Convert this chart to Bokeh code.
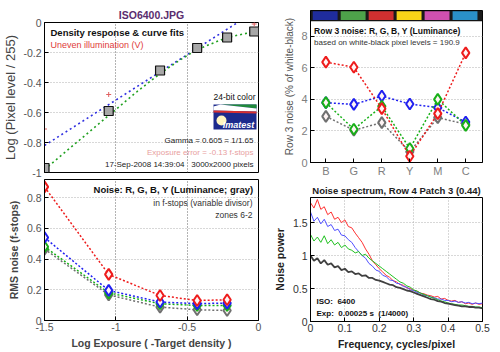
from bokeh.plotting import figure
from bokeh.layouts import row, column
from bokeh.models import Label, FixedTicker, Range1d, Span
from bokeh.embed import file_html
from bokeh.resources import INLINE

FONT = "Liberation Sans"

# ---------------- data ----------------
# Density response (top-left)
dens_x = [-1.5, -1.05, -0.69, -0.43, -0.22, -0.03]
dens_y = [-0.97, -0.59, -0.32, -0.17, -0.10, -0.06]
illum_x = [-1.5, -1.05, -0.03]
illum_y = [-0.71, -0.48, -0.01]
linfit_x = [-1.5, -0.146]
linfit_y = [-0.82, 0.0]
curvefit_x = [-1.5, -1.25, -1.05, -0.85, -0.69, -0.55, -0.43, -0.30, -0.22, -0.10, 0.0]
curvefit_y = [-0.98, -0.78, -0.62, -0.46, -0.34, -0.25, -0.18, -0.13, -0.10, -0.075, -0.06]

# Noise in f-stops (bottom-left)
noise_x = [-1.5, -1.05, -0.69, -0.43, -0.22]
noise_r = [0.87, 0.30, 0.163, 0.13, 0.135]
noise_b = [0.54, 0.196, 0.12, 0.11, 0.113]
noise_g = [0.48, 0.18, 0.109, 0.098, 0.098]
noise_y = [0.465, 0.167, 0.087, 0.07, 0.065]

# Row 3 noise (top-right)
cats = ["B", "G", "R", "Y", "M", "C"]
row3_r = [6.37, 6.05, 3.42, 0.40, 3.10, 6.96]
row3_b = [3.80, 3.69, 4.22, 3.71, 3.48, 2.57]
row3_g = [3.80, 2.11, 3.57, 0.89, 4.01, 2.36]
row3_y = [2.93, 2.05, 2.53, 0.68, 2.85, 2.43]
band_colors = ["#1f2c9c", "#4ea24a", "#d03030", "#f8d418", "#d050b0", "#2a90c8"]

# Noise spectrum (bottom-right)
freq = [0.00, 0.01, 0.02, 0.03, 0.04, 0.05, 0.06, 0.07, 0.08, 0.09,
        0.10, 0.11, 0.12, 0.13, 0.14, 0.15, 0.16, 0.17, 0.18, 0.19,
        0.20, 0.21, 0.22, 0.23, 0.24, 0.25, 0.26, 0.27, 0.28, 0.29,
        0.30, 0.31, 0.32, 0.33, 0.34, 0.35, 0.36, 0.37, 0.38, 0.39,
        0.40, 0.41, 0.42, 0.43, 0.44, 0.45, 0.46, 0.47, 0.48, 0.49, 0.50]
spec_r = [1.80, 1.72, 1.85, 1.70, 1.74, 1.62, 1.66, 1.55, 1.58, 1.50,
          1.54, 1.44, 1.42, 1.34, 1.27, 1.20, 1.10, 1.02, 0.92, 0.86,
          0.80, 0.75, 0.70, 0.67, 0.62, 0.60, 0.56, 0.55, 0.51, 0.50,
          0.47, 0.46, 0.43, 0.42, 0.40, 0.39, 0.37, 0.38, 0.34, 0.35,
          0.32, 0.31, 0.32, 0.29, 0.30, 0.27, 0.28, 0.26, 0.28, 0.26, 0.27]
spec_b = [1.66, 1.52, 1.58, 1.48, 1.55, 1.44, 1.47, 1.38, 1.40, 1.31,
          1.30, 1.24, 1.20, 1.12, 1.06, 1.00, 0.96, 0.88, 0.84, 0.78,
          0.76, 0.70, 0.68, 0.63, 0.62, 0.58, 0.57, 0.53, 0.52, 0.48,
          0.47, 0.44, 0.43, 0.40, 0.39, 0.37, 0.36, 0.34, 0.34, 0.32,
          0.32, 0.30, 0.31, 0.29, 0.30, 0.28, 0.29, 0.27, 0.28, 0.27, 0.28]
spec_g = [1.32, 1.22, 1.28, 1.20, 1.30, 1.18, 1.24, 1.16, 1.20, 1.12,
          1.16, 1.10, 1.08, 1.04, 1.06, 1.00, 1.02, 0.96, 0.92, 0.88,
          0.84, 0.80, 0.76, 0.72, 0.68, 0.64, 0.60, 0.58, 0.54, 0.52,
          0.48, 0.46, 0.43, 0.41, 0.39, 0.37, 0.35, 0.33, 0.31, 0.30,
          0.28, 0.27, 0.26, 0.25, 0.25, 0.24, 0.23, 0.23, 0.22, 0.22, 0.21]
spec_y = [1.00, 0.92, 0.96, 0.88, 0.93, 0.86, 0.88, 0.82, 0.84, 0.78,
          0.80, 0.75, 0.76, 0.72, 0.73, 0.69, 0.70, 0.66, 0.66, 0.63,
          0.62, 0.60, 0.58, 0.56, 0.55, 0.52, 0.51, 0.49, 0.47, 0.46,
          0.44, 0.42, 0.40, 0.38, 0.36, 0.34, 0.33, 0.31, 0.30, 0.28,
          0.27, 0.26, 0.25, 0.24, 0.23, 0.23, 0.22, 0.22, 0.21, 0.21, 0.20]

RED, BLUE, GREEN, GRAY = "#ee1c1c", "#2020f0", "#18b018", "#707070"


def style(p, tick_size, tick_color, label_size, label_color, label_style):
    for ax in list(p.xaxis) + list(p.yaxis):
        ax.major_tick_in = 4
        ax.major_tick_out = 0
        ax.minor_tick_line_color = None
        ax.major_label_text_font = FONT
        ax.major_label_text_font_size = tick_size
        ax.major_label_text_color = tick_color
        ax.axis_label_text_font = FONT
        ax.axis_label_text_font_size = label_size
        ax.axis_label_text_color = label_color
        ax.axis_label_text_font_style = label_style
        ax.axis_line_color = "black"
        ax.major_tick_line_color = "black"
        ax.major_label_standoff = 3
        ax.axis_label_standoff = 4
    p.outline_line_color = "black"
    p.outline_line_alpha = 1
    p.background_fill_color = "white"
    p.border_fill_color = "white"
    for g in list(p.xgrid) + list(p.ygrid):
        g.grid_line_dash = "1 2"
        g.grid_line_color = "#b0b0b0"


def mk(width, height, xr, yr, l, r, t, b, title=None):
    return figure(width=width, height=height, x_range=Range1d(*xr), y_range=Range1d(*yr),
                  output_backend="svg", toolbar_location=None, title=title,
                  min_border_left=l, min_border_right=r, min_border_top=t, min_border_bottom=b)


def lbl(p, x, y, text, size, color="#111111", align="left", style_="normal"):
    p.add_layout(Label(x=x, y=y, text=text, text_font=FONT, text_font_size=size,
                       text_color=color, text_align=align, text_baseline="middle",
                       text_font_style=style_))


def fmt(vals, strs):
    return {v: s for v, s in zip(vals, strs)}

# ---------------- top-left: density response ----------------
# frame: x 44..258, y 22..172
p1 = mk(262, 178, (-1.5, 0), (-1, 0), 44, 4, 22, 6, title="ISO6400.JPG")
p1.title.align = "center"
p1.title.text_font = FONT
p1.title.text_font_size = "10.5px"
p1.title.text_color = "#5a2d6e"
p1.title.standoff = 4
p1.xaxis.visible = False
yt1 = [-1, -0.8, -0.6, -0.4, -0.2, 0]
p1.yaxis.ticker = FixedTicker(ticks=yt1)
p1.yaxis.major_label_overrides = fmt(yt1, ["-1", "-0.8", "-0.6", "-0.4", "-0.2", "0"])
p1.xgrid.ticker = FixedTicker(ticks=[-1, -0.5])
p1.yaxis.axis_label = "Log (Pixel level / 255)"
style(p1, "10.5px", "#555555", "13px", "#444444", "normal")
p1.yaxis.axis_label_standoff = 2
p1.xgrid.grid_line_color = "#666666"


def p1xy(px, py):
    return (-1.5 + (px - 44) / 214 * 1.5, -(py - 22) / 150)


p1.line(linfit_x, linfit_y, line_color="#3030e0", line_width=1.6, line_dash="2 3")
p1.line(curvefit_x, curvefit_y, line_color="#20a020", line_width=1.6, line_dash="2 3")
p1.scatter(dens_x, dens_y, marker="square", size=9, fill_color="#a8a8a8",
           line_color="#111111", line_width=1.2)
p1.scatter(illum_x, illum_y, marker="cross", size=5, line_color="#e06060", line_width=1)

# Imatest logo
(lx0, ly0), (lx1, ly1) = p1xy(213, 104), p1xy(256, 129)
p1.quad(left=[lx0], right=[lx1], top=[ly0], bottom=[ly1], fill_color="#1c2a8c", line_color=None)


def poly(pts, color):
    xs, ys = zip(*[p1xy(a, b) for a, b in pts])
    p1.patch(list(xs), list(ys), fill_color=color, line_color=None)


poly([(220, 104), (256, 104), (256, 108)], "#1f8a3a")
poly([(213, 106), (220, 104), (256, 108), (256, 111), (213, 110)], "#ffffff")
poly([(213, 110), (256, 111), (256, 113), (213, 112)], "#d83030")
cx, cy = p1xy(221, 120)
p1.scatter([cx], [cy], marker="circle", size=10, fill_color="#fff6c0", line_color=None)
x, y = p1xy(238, 124)
lbl(p1, x, y, "Imatest", "9px", "white", "center", "bold italic")
x, y = p1xy(234, 96)
lbl(p1, x, y, "24-bit color", "8.5px", "#111111", "center")

x, y = p1xy(50, 32)
lbl(p1, x, y, "Density response & curve fits", "9.5px", "#111111", "left", "bold")
x, y = p1xy(50, 44)
lbl(p1, x, y, "Uneven illumination (V)", "9px", "#e03a3a")
x, y = p1xy(253, 140)
lbl(p1, x, y, "Gamma = 0.605 = 1/1.65", "8px", "#222222", "right")
x, y = p1xy(253, 152)
lbl(p1, x, y, "Exposure error = -0.13 f-stops", "8px", "#e8a0a0", "right")
x, y = p1xy(253, 164)
lbl(p1, x, y, "17-Sep-2008 14:39:04\u00a0\u00a0\u00a03000x2000 pixels", "8px", "#222222", "right")

# ---------------- bottom-left: noise in f-stops ----------------
# frame: x 44..258, y 179..320
p2 = mk(262, 174, (-1.5, 0), (0, 0.918), 44, 4, 1, 32)
xt2 = [-1.5, -1, -0.5, 0]
yt2 = [0, 0.2, 0.4, 0.6, 0.8]
p2.xaxis.ticker = FixedTicker(ticks=xt2)
p2.xaxis.major_label_overrides = fmt(xt2, ["-1.5", "-1", "-0.5", "0"])
p2.yaxis.ticker = FixedTicker(ticks=yt2)
p2.yaxis.major_label_overrides = fmt(yt2, ["0", "0.2", "0.4", "0.6", "0.8"])
p2.xaxis.axis_label = "Log Exposure ( -Target density )"
p2.yaxis.axis_label = "RMS noise (f-stops)"
style(p2, "10.5px", "#555555", "10.5px", "#444444", "bold")
p2.xgrid.grid_line_color = "#666666"
p2.xaxis.major_label_standoff = 2
p2.xaxis.axis_label_standoff = 3


def p2xy(px, py):
    return (-1.5 + (px - 44) / 214 * 1.5, (320 - py) / 141 * 0.918)


for ys, c in [(noise_y, GRAY), (noise_g, GREEN), (noise_b, BLUE), (noise_r, RED)]:
    p2.line(noise_x, ys, line_color=c, line_width=1.5, line_dash="2 2")
    p2.scatter(noise_x, ys, marker="diamond", size=11, fill_color="#fff4f4",
               line_color=c, line_width=2)

x, y = p2xy(253, 189)
lbl(p2, x, y, "Noise: R, G, B, Y (Luminance; gray)", "9.5px", "#111111", "right", "bold")
x, y = p2xy(252, 202)
lbl(p2, x, y, "in f-stops (variable divisor)", "8.5px", "#333333", "right")
x, y = p2xy(252, 214)
lbl(p2, x, y, "zones 6-2", "8.5px", "#333333", "right")

# ---------------- top-right: row 3 noise ----------------
cat_x = [i + 1 for i in range(len(cats))]
p3 = mk(238, 180, (0.45, 6.6), (0, 9.65), 38, 10, 10, 18)
p3.xaxis.ticker = FixedTicker(ticks=cat_x)
p3.xaxis.major_label_overrides = fmt(cat_x, cats)
yt3 = [0, 2, 4, 6, 8]
p3.yaxis.ticker = FixedTicker(ticks=yt3)
p3.yaxis.axis_label = "Row 3 noise (% of white-black)"
style(p3, "11px", "#808080", "10px", "#555555", "normal")
p3.xgrid.visible = False
p3.yaxis.axis_label_standoff = 3
p3.xaxis.major_label_standoff = 2

p3.quad(left=[0.45], right=[6.6], bottom=[9.0], top=[9.65], fill_color="#1a1a1a", line_color=None)
p3.quad(left=[v - 0.47 for v in cat_x], right=[v + 0.42 for v in cat_x],
        bottom=[9.04] * len(cat_x), top=[9.6] * len(cat_x),
        fill_color=band_colors, line_color=None)
p3.add_layout(Span(location=9.0, dimension="width", line_color="black", line_width=1))

for ys, c in [(row3_y, GRAY), (row3_b, BLUE), (row3_g, GREEN), (row3_r, RED)]:
    p3.line(cat_x, ys, line_color=c, line_width=1.5, line_dash="2 2")
    p3.scatter(cat_x, ys, marker="diamond", size=11, fill_color="#fff4f4",
               line_color=c, line_width=2)


def p3xy(px, py):
    return (0.45 + (px - 300) / 190 * 6.15, (162 - py) / 152 * 9.65)


x, y = p3xy(304, 30)
lbl(p3, x, y, "Row 3 noise: R, G, B, Y (Luminance)", "8.5px", "#111111", "left", "bold")
x, y = p3xy(304, 42)
lbl(p3, x, y, "based on white-black pixel levels = 190.9", "8px", "#333333")

# ---------------- bottom-right: noise spectrum ----------------
p4 = mk(238, 172, (0, 0.5), (0, 1.88), 48, 18, 17, 31,
        title="Noise spectrum, Row 4 Patch 3 (0.44)")
p4.title.align = "center"
p4.title.text_font = FONT
p4.title.text_font_size = "9.5px"
p4.title.text_color = "#222222"
p4.title.standoff = 4
xt4 = [0, 0.1, 0.2, 0.3, 0.4, 0.5]
yt4 = [0, 0.5, 1, 1.5]
p4.xaxis.ticker = FixedTicker(ticks=xt4)
p4.xaxis.major_label_overrides = fmt(xt4, ["0", "0.1", "0.2", "0.3", "0.4", "0.5"])
p4.yaxis.ticker = FixedTicker(ticks=yt4)
p4.yaxis.major_label_overrides = fmt(yt4, ["0", "0.5", "1", "1.5"])
p4.xaxis.axis_label = "Frequency, cycles/pixel"
p4.yaxis.axis_label = "Noise power"
style(p4, "10.5px", "#333333", "10.5px", "#222222", "bold")
p4.xaxis.major_label_standoff = 2
p4.xaxis.axis_label_standoff = 3

p4.line(freq, spec_r, line_color="#ff3030", line_width=1)
p4.line(freq, spec_b, line_color="#5050ff", line_width=1)
p4.line(freq, spec_g, line_color="#20c020", line_width=1)
p4.line(freq, spec_y, line_color="#404040", line_width=1.8)


def p4xy(px, py):
    return ((px - 310) / 172 * 0.5, (321 - py) / 124 * 1.88)


x, y = p4xy(316, 301)
lbl(p4, x, y, "ISO:\u00a0\u00a06400", "8px", "#111111", "left", "bold")
x, y = p4xy(316, 313)
lbl(p4, x, y, "Exp:\u00a0\u00a00.00025 s\u00a0\u00a0(1/4000)", "8px", "#111111", "left", "bold")

layout = row(column(p1, p2), column(p3, p4))
open("out.html", "w").write(file_html(layout, INLINE))
